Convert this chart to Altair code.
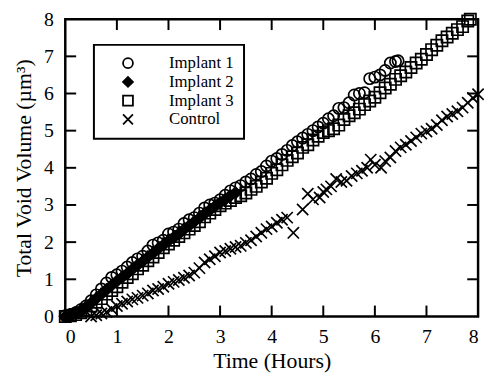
import altair as alt
import pandas as pd

# ---- data ----
imp1_t = [0.00, 0.10, 0.20, 0.30, 0.40, 0.50, 0.60, 0.70, 0.80, 0.90, 1.00, 1.10, 1.20, 1.30, 1.40,
          1.50, 1.60, 1.70, 1.80, 1.90, 2.00, 2.10, 2.20, 2.30, 2.40, 2.50, 2.60, 2.70, 2.80, 2.90,
          3.00, 3.10, 3.20, 3.30, 3.40, 3.50, 3.60, 3.70, 3.80, 3.90, 4.00, 4.10, 4.20, 4.30, 4.40,
          4.50, 4.60, 4.70, 4.80, 4.90, 5.00, 5.10, 5.20, 5.30, 5.40, 5.50, 5.60, 5.70, 5.80, 5.90,
          6.00, 6.10, 6.20, 6.30, 6.40, 6.45]
imp1_v = [0.02, 0.05, 0.10, 0.18, 0.28, 0.42, 0.58, 0.74, 0.90, 1.05, 1.12, 1.22, 1.33, 1.45, 1.55,
          1.62, 1.76, 1.92, 1.98, 2.05, 2.22, 2.27, 2.35, 2.50, 2.60, 2.66, 2.78, 2.92, 3.00, 3.05,
          3.14, 3.26, 3.38, 3.46, 3.52, 3.62, 3.70, 3.82, 3.90, 4.05, 4.18, 4.25, 4.36, 4.47, 4.60,
          4.70, 4.80, 4.90, 5.00, 5.10, 5.20, 5.32, 5.40, 5.60, 5.62, 5.75, 5.96, 6.00, 6.02, 6.40,
          6.44, 6.50, 6.62, 6.82, 6.86, 6.88]

imp2_t = [0.00, 0.10, 0.20, 0.30, 0.40, 0.50, 0.60, 0.70, 0.80, 0.90, 1.00, 1.10, 1.20, 1.30, 1.40,
          1.50, 1.60, 1.70, 1.80, 1.90, 2.00, 2.10, 2.20, 2.30, 2.40, 2.50, 2.60, 2.70, 2.80, 2.90,
          3.00, 3.10, 3.20, 3.30]
imp2_v = [0.00, 0.03, 0.08, 0.15, 0.25, 0.36, 0.48, 0.60, 0.72, 0.84, 0.95, 1.05, 1.15, 1.27, 1.38,
          1.48, 1.60, 1.70, 1.82, 1.92, 2.03, 2.12, 2.22, 2.34, 2.44, 2.55, 2.65, 2.76, 2.86, 2.96,
          3.05, 3.15, 3.25, 3.33]

imp3_t = [0.00, 0.10, 0.20, 0.30, 0.40, 0.50, 0.60, 0.70, 0.80, 0.90, 1.00, 1.10, 1.20, 1.30, 1.40,
          1.50, 1.60, 1.70, 1.80, 1.90, 2.00, 2.10, 2.20, 2.30, 2.40, 2.50, 2.60, 2.70, 2.80, 2.90,
          3.00, 3.10, 3.20, 3.30, 3.40, 3.50, 3.60, 3.70, 3.80, 3.90, 4.00, 4.10, 4.20, 4.30, 4.40,
          4.50, 4.60, 4.70, 4.80, 4.90, 5.00, 5.10, 5.20, 5.30, 5.40, 5.50, 5.60, 5.70, 5.80, 5.90,
          6.00, 6.10, 6.20, 6.30, 6.40, 6.50, 6.60, 6.70, 6.80, 6.90, 7.00, 7.10, 7.20, 7.30, 7.40,
          7.50, 7.60, 7.70, 7.80, 7.85]
imp3_v = [0.00, 0.02, 0.05, 0.10, 0.18, 0.28, 0.38, 0.48, 0.60, 0.70, 0.80, 0.92, 1.05, 1.15, 1.28,
          1.38, 1.50, 1.60, 1.72, 1.85, 1.95, 2.05, 2.15, 2.25, 2.35, 2.45, 2.55, 2.68, 2.78, 2.88,
          2.98, 3.05, 3.12, 3.20, 3.25, 3.32, 3.42, 3.50, 3.62, 3.72, 3.85, 3.95, 4.08, 4.20, 4.30,
          4.40, 4.55, 4.62, 4.75, 4.85, 4.95, 5.00, 5.05, 5.15, 5.30, 5.40, 5.48, 5.58, 5.70, 5.80,
          5.90, 6.02, 6.15, 6.25, 6.38, 6.48, 6.58, 6.70, 6.82, 6.92, 7.05, 7.18, 7.30, 7.42, 7.52,
          7.62, 7.72, 7.80, 7.95, 8.00]

ctrl_t = [0.50, 0.60, 0.70, 0.80, 0.90, 1.00, 1.10, 1.20, 1.30, 1.40, 1.50, 1.60, 1.70, 1.80, 1.90,
          2.00, 2.10, 2.20, 2.30, 2.40, 2.50, 2.60, 2.70, 2.80, 2.90, 3.00, 3.10, 3.20, 3.30, 3.40,
          3.50, 3.60, 3.70, 3.80, 3.90, 4.00, 4.10, 4.20, 4.30, 4.42, 4.60, 4.70, 4.80, 4.93, 5.00,
          5.06, 5.15, 5.25, 5.35, 5.45, 5.55, 5.65, 5.75, 5.85, 5.92, 6.00, 6.12, 6.20, 6.30, 6.40,
          6.50, 6.60, 6.70, 6.80, 6.90, 7.00, 7.10, 7.20, 7.30, 7.40, 7.50, 7.60, 7.70, 7.80, 7.90,
          8.00]
ctrl_v = [0.00, 0.03, 0.08, 0.12, 0.20, 0.28, 0.34, 0.40, 0.46, 0.50, 0.56, 0.62, 0.70, 0.74, 0.80,
          0.88, 0.93, 0.98, 1.04, 1.10, 1.18, 1.30, 1.45, 1.54, 1.62, 1.72, 1.76, 1.82, 1.87, 1.90,
          1.98, 2.05, 2.15, 2.25, 2.35, 2.42, 2.52, 2.60, 2.66, 2.25, 2.88, 3.30, 3.15, 3.20, 3.35,
          3.42, 3.50, 3.70, 3.62, 3.65, 3.78, 3.85, 3.92, 4.00, 4.22, 4.08, 4.00, 4.18, 4.28, 4.45,
          4.55, 4.62, 4.72, 4.82, 4.92, 4.98, 5.05, 5.15, 5.28, 5.38, 5.45, 5.52, 5.62, 5.75, 5.88,
          5.98]

series_names = ["Implant 1", "Implant 2", "Implant 3", "Control"]
tick_values = [1, 2, 3, 4, 5, 6, 7]
axis_values = [0, 1, 2, 3, 4, 5, 6, 7, 8]

# ---- build table (draw order: squares, diamonds, circles, crosses) ----
frames = []
for name, t, v in [("Implant 3", imp3_t, imp3_v), ("Implant 2", imp2_t, imp2_v),
                   ("Implant 1", imp1_t, imp1_v), ("Control", ctrl_t, ctrl_v)]:
    frames.append(pd.DataFrame({"time": t, "volume": v, "series": name}))
df = pd.concat(frames, ignore_index=True)
df["idx"] = range(len(df))
ticks_df = pd.DataFrame({"time": tick_values, "volume": tick_values})

W, H = 418, 301
FONT = "Liberation Serif"

xscale = alt.Scale(domain=[0, 8], nice=False, zero=False)
yscale = alt.Scale(domain=[0, 8], nice=False, zero=False)
x_axis = alt.Axis(title="Time (Hours)", values=axis_values, format="d", labelOverlap=False)
y_axis = alt.Axis(title="Total Void Volume (µm³)", values=axis_values, format="d",
                  labelOverlap=False)

legend = alt.Legend(
    title=None, orient="none", legendX=29, legendY=26,
    strokeColor="black", fillColor="white",
    padding=10, symbolOffset=16, labelOffset=33, rowPadding=0,
    labelFont=FONT, labelFontSize=17, labelColor="black",
    symbolSize=100, symbolStrokeWidth=1.8, symbolStrokeColor="black",
)

points = alt.Chart(df).mark_point(opacity=1, strokeWidth=1.7, size=130).encode(
    x=alt.X("time:Q", scale=xscale, axis=x_axis),
    y=alt.Y("volume:Q", scale=yscale, axis=y_axis),
    shape=alt.Shape("series:N", sort=series_names,
                    scale=alt.Scale(domain=series_names,
                                    range=["circle", "diamond", "square", "M-1,-1L1,1M-1,1L1,-1"]),
                    legend=legend),
    fill=alt.Fill("series:N", sort=series_names,
                  scale=alt.Scale(domain=series_names,
                                  range=["transparent", "black", "transparent", "transparent"]),
                  legend=legend),
    stroke=alt.Stroke("series:N", sort=series_names,
                      scale=alt.Scale(domain=series_names,
                                      range=["black", "black", "black", "black"]),
                      legend=legend),
    order=alt.Order("idx:Q"),
)

tick_style = dict(color="black", strokeWidth=2)
L = 11
bottom_ticks = alt.Chart(ticks_df).mark_rule(**tick_style).encode(
    x=alt.X("time:Q", scale=xscale, axis=x_axis), y=alt.value(H), y2=alt.value(H - L))
top_ticks = alt.Chart(ticks_df).mark_rule(**tick_style).encode(
    x=alt.X("time:Q", scale=xscale, axis=x_axis), y=alt.value(0), y2=alt.value(L))
left_ticks = alt.Chart(ticks_df).mark_rule(**tick_style).encode(
    y=alt.Y("volume:Q", scale=yscale, axis=y_axis), x=alt.value(0), x2=alt.value(L))
right_ticks = alt.Chart(ticks_df).mark_rule(**tick_style).encode(
    y=alt.Y("volume:Q", scale=yscale, axis=y_axis), x=alt.value(W - L), x2=alt.value(W))

chart = alt.layer(points, bottom_ticks, top_ticks, left_ticks, right_ticks).properties(
    width=W, height=H,
    autosize=alt.AutoSizeParams(type="none"),
    padding={"left": 58, "top": 9, "right": 6, "bottom": 60},
).configure_view(
    stroke="black", strokeWidth=2.5,
).configure_legend(
    strokeWidth=2,
).configure_axis(
    grid=False, domain=False, ticks=False, labelOverlap=False,
    labelFont=FONT, labelFontSize=20, labelFontWeight="normal", labelColor="black",
    titleFont=FONT, titleFontSize=22, titleColor="black", titleFontWeight="normal",
).configure_axisX(
    labelPadding=10, titlePadding=5,
).configure_axisY(
    labelPadding=12, titlePadding=8,
)

chart.save("out.html", embed_options={"renderer": "svg", "actions": False})
